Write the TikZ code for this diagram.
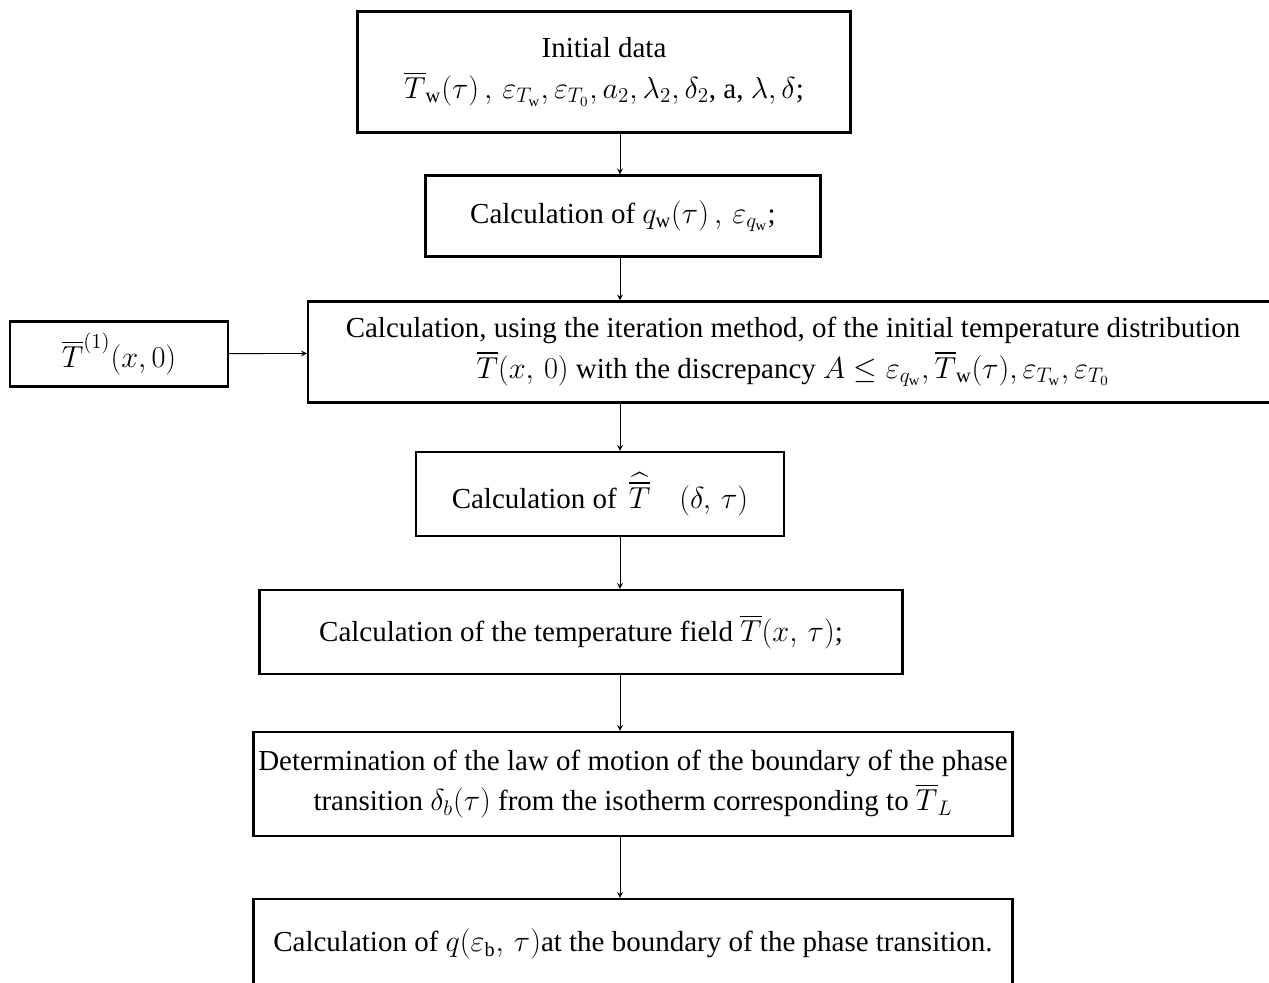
\documentclass[tikz,border=0pt]{standalone}
\usepackage{fontspec}
\setmainfont{Liberation Serif}
\usepackage{amsmath}
\usetikzlibrary{arrows}

\begin{document}
\begin{tikzpicture}[>=stealth, x=0.02cm, y=-0.02cm,
        blk/.style={draw, line width=1.3pt, align=center, inner sep=0pt,
            font=\fontsize{16.5}{23}\selectfont},
        flow/.style={->, line width=0.5pt}]
        \useasboundingbox (0,0) rectangle (1269,983);
        \clip (0,0) rectangle (1269,983);
        \node[blk, minimum width=9.86cm, minimum height=2.42cm] (init) at (604,72)
            {Initial data\\ $\overline{T}_{\mathrm{w}}(\tau)\,,\,\varepsilon_{T_{\mathrm{w}}}, \varepsilon_{T_0}, a_2, \lambda_2, \delta_2$, a, $\lambda, \delta$;};
        \node[blk, minimum width=7.9cm, minimum height=1.62cm] (qw) at (623,216)
            {Calculation of $q_{\mathrm{w}}(\tau)\,,\,\varepsilon_{q_{\mathrm{w}}}$;};
        \node[blk, minimum width=4.36cm, minimum height=1.3cm] (tone) at (119,354)
            {$\overline{T}^{(1)}(x,0)$};
        \node[blk, minimum width=19.4cm, minimum height=2.02cm] (iter) at (793,352)
            {Calculation, using the iteration method, of the initial temperature distribution\\
             $\overline{T}(x,\,0)$ with the discrepancy $A \leq \varepsilon_{q_{\mathrm{w}}}, \overline{T}_{\mathrm{w}}(\tau), \varepsilon_{T_{\mathrm{w}}}, \varepsilon_{T_0}$};
        \node[blk, minimum width=7.36cm, minimum height=1.68cm] (that) at (600,494)
            {Calculation of\, $\widehat{\overline{T}}\quad(\delta,\,\tau)$};
        \node[blk, minimum width=12.86cm, minimum height=1.68cm] (field) at (581,632)
            {Calculation of the temperature field $\overline{T}(x,\,\tau)$;};
        \node[blk, minimum width=15.18cm, minimum height=2.08cm] (law) at (633,784)
            {Determination of the law of motion of the boundary of the phase\\
             transition $\delta_b(\tau)$ from the isotherm corresponding to $\overline{T}_L$};
        \node[blk, minimum width=15.18cm, minimum height=1.8cm] (qb) at (633,944)
            {Calculation of $q(\varepsilon_{\mathrm{b}},\,\tau)$at the boundary of the phase transition.};
        \coordinate (spine) at (620,0);
        \draw[flow] (init.south -| spine) -- (qw.north -| spine);
        \draw[flow] (qw.south -| spine) -- (iter.north -| spine);
        \draw[flow] (iter.south -| spine) -- (that.north -| spine);
        \draw[flow] (that.south -| spine) -- (field.north -| spine);
        \draw[flow] (field.south -| spine) -- (law.north -| spine);
        \draw[flow] (law.south -| spine) -- (qb.north -| spine);
        \draw[flow] (tone) -- (iter);
    \end{tikzpicture}
\end{document}
